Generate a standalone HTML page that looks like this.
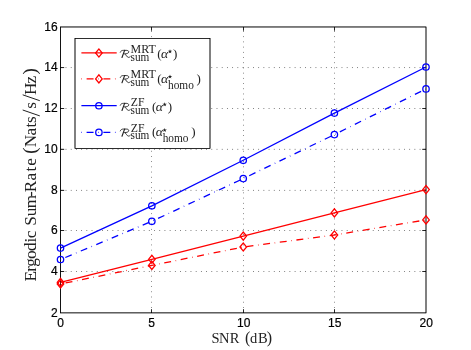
<!DOCTYPE html>
<html><head><meta charset="utf-8"><title>Ergodic Sum-Rate vs SNR</title>
<style>html,body{margin:0;padding:0;background:#fff}svg{display:block;will-change:transform;opacity:0.999}.t{font-family:"Liberation Sans",sans-serif;font-size:12px;fill:#000;stroke:#000;stroke-width:0.2px}.s{font-family:"Liberation Serif",serif;fill:#222}</style></head><body>
<svg width="471" height="350" viewBox="0 0 471 350">
<rect width="471" height="350" fill="#fff"/>
<g stroke="#000" stroke-width="0.579" stroke-dasharray="0.839 4.368" stroke-dashoffset="0.13" fill="none">
<line x1="151.50" y1="312.90" x2="151.50" y2="26.98" stroke-dasharray="0.778 4.428" stroke-dashoffset="0.1"/>
<line x1="243.50" y1="312.90" x2="243.50" y2="26.98" stroke-dasharray="0.778 4.428" stroke-dashoffset="0.1"/>
<line x1="334.50" y1="312.90" x2="334.50" y2="26.98" stroke-dasharray="0.778 4.428" stroke-dashoffset="0.1"/>
<line x1="60.50" y1="271.50" x2="426.00" y2="271.50"/>
<line x1="60.50" y1="230.50" x2="426.00" y2="230.50"/>
<line x1="60.50" y1="190.40" x2="426.00" y2="190.40"/>
<line x1="60.50" y1="149.35" x2="426.00" y2="149.35"/>
<line x1="60.50" y1="108.50" x2="426.00" y2="108.50"/>
<line x1="60.50" y1="67.55" x2="426.00" y2="67.55"/>
</g>
<rect x="60.50" y="26.98" width="365.50" height="285.92" fill="none" stroke="#000" stroke-width="0.579"/>
<g stroke="#000" stroke-width="0.62">
<line x1="151.50" y1="312.90" x2="151.50" y2="309.25"/>
<line x1="151.50" y1="26.98" x2="151.50" y2="30.63"/>
<line x1="243.50" y1="312.90" x2="243.50" y2="309.25"/>
<line x1="243.50" y1="26.98" x2="243.50" y2="30.63"/>
<line x1="334.50" y1="312.90" x2="334.50" y2="309.25"/>
<line x1="334.50" y1="26.98" x2="334.50" y2="30.63"/>
<line x1="60.50" y1="271.50" x2="64.15" y2="271.50"/>
<line x1="426.00" y1="271.50" x2="422.35" y2="271.50"/>
<line x1="60.50" y1="230.50" x2="64.15" y2="230.50"/>
<line x1="426.00" y1="230.50" x2="422.35" y2="230.50"/>
<line x1="60.50" y1="190.40" x2="64.15" y2="190.40"/>
<line x1="426.00" y1="190.40" x2="422.35" y2="190.40"/>
<line x1="60.50" y1="149.35" x2="64.15" y2="149.35"/>
<line x1="426.00" y1="149.35" x2="422.35" y2="149.35"/>
<line x1="60.50" y1="108.50" x2="64.15" y2="108.50"/>
<line x1="426.00" y1="108.50" x2="422.35" y2="108.50"/>
<line x1="60.50" y1="67.55" x2="64.15" y2="67.55"/>
<line x1="426.00" y1="67.55" x2="422.35" y2="67.55"/>
</g>
<rect x="60.50" y="26.98" width="365.50" height="285.92" fill="none" stroke="#000" stroke-width="0.579"/>
<g stroke="#000" stroke-width="0.62">
<line x1="151.50" y1="312.90" x2="151.50" y2="309.25"/>
<line x1="151.50" y1="26.98" x2="151.50" y2="30.63"/>
<line x1="243.50" y1="312.90" x2="243.50" y2="309.25"/>
<line x1="243.50" y1="26.98" x2="243.50" y2="30.63"/>
<line x1="334.50" y1="312.90" x2="334.50" y2="309.25"/>
<line x1="334.50" y1="26.98" x2="334.50" y2="30.63"/>
<line x1="60.50" y1="271.50" x2="64.15" y2="271.50"/>
<line x1="426.00" y1="271.50" x2="422.35" y2="271.50"/>
<line x1="60.50" y1="230.50" x2="64.15" y2="230.50"/>
<line x1="426.00" y1="230.50" x2="422.35" y2="230.50"/>
<line x1="60.50" y1="190.40" x2="64.15" y2="190.40"/>
<line x1="426.00" y1="190.40" x2="422.35" y2="190.40"/>
<line x1="60.50" y1="149.35" x2="64.15" y2="149.35"/>
<line x1="426.00" y1="149.35" x2="422.35" y2="149.35"/>
<line x1="60.50" y1="108.50" x2="64.15" y2="108.50"/>
<line x1="426.00" y1="108.50" x2="422.35" y2="108.50"/>
<line x1="60.50" y1="67.55" x2="64.15" y2="67.55"/>
<line x1="426.00" y1="67.55" x2="422.35" y2="67.55"/>
</g>
<line x1="60.5" y1="26.98" x2="60.5" y2="312.9" stroke="#000" stroke-width="0.579"/>
<text class="t" x="60.70" y="326.7" text-anchor="middle">0</text>
<text class="t" x="151.70" y="326.7" text-anchor="middle">5</text>
<text class="t" x="243.70" y="326.7" text-anchor="middle">10</text>
<text class="t" x="334.70" y="326.7" text-anchor="middle">15</text>
<text class="t" x="426.20" y="326.7" text-anchor="middle">20</text>
<text class="t" x="57.7" y="316.80" text-anchor="end">2</text>
<text class="t" x="57.7" y="275.40" text-anchor="end">4</text>
<text class="t" x="57.7" y="234.40" text-anchor="end">6</text>
<text class="t" x="57.7" y="194.30" text-anchor="end">8</text>
<text class="t" x="57.7" y="153.25" text-anchor="end">10</text>
<text class="t" x="57.7" y="112.40" text-anchor="end">12</text>
<text class="t" x="57.7" y="71.45" text-anchor="end">14</text>
<text class="t" x="57.7" y="30.88" text-anchor="end">16</text>
<polyline points="60.50,282.30 151.85,259.30 243.25,236.10 334.40,212.90 426.00,189.60" fill="none" stroke="#ff0000" stroke-width="1.280"/>
<path d="M57.20,282.30 L60.50,278.25 L63.80,282.30 L60.50,286.35 Z" fill="none" stroke="#ff0000" stroke-width="1.280"/>
<path d="M148.55,259.30 L151.85,255.25 L155.15,259.30 L151.85,263.35 Z" fill="none" stroke="#ff0000" stroke-width="1.280"/>
<path d="M239.95,236.10 L243.25,232.05 L246.55,236.10 L243.25,240.15 Z" fill="none" stroke="#ff0000" stroke-width="1.280"/>
<path d="M331.10,212.90 L334.40,208.85 L337.70,212.90 L334.40,216.95 Z" fill="none" stroke="#ff0000" stroke-width="1.280"/>
<path d="M422.70,189.60 L426.00,185.55 L429.30,189.60 L426.00,193.65 Z" fill="none" stroke="#ff0000" stroke-width="1.280"/>
<polyline points="60.50,284.00 151.85,265.40 243.25,247.00 334.40,235.00 426.00,219.90" fill="none" stroke="#ff0000" stroke-width="1.280" stroke-dasharray="0.579 4.628 6.942 4.628" stroke-dashoffset="0.0"/>
<path d="M57.20,284.00 L60.50,279.95 L63.80,284.00 L60.50,288.05 Z" fill="none" stroke="#ff0000" stroke-width="1.280"/>
<path d="M148.55,265.40 L151.85,261.35 L155.15,265.40 L151.85,269.45 Z" fill="none" stroke="#ff0000" stroke-width="1.280"/>
<path d="M239.95,247.00 L243.25,242.95 L246.55,247.00 L243.25,251.05 Z" fill="none" stroke="#ff0000" stroke-width="1.280"/>
<path d="M331.10,235.00 L334.40,230.95 L337.70,235.00 L334.40,239.05 Z" fill="none" stroke="#ff0000" stroke-width="1.280"/>
<path d="M422.70,219.90 L426.00,215.85 L429.30,219.90 L426.00,223.95 Z" fill="none" stroke="#ff0000" stroke-width="1.280"/>
<polyline points="60.50,248.10 151.85,205.80 243.25,160.30 334.40,113.10 426.00,67.00" fill="none" stroke="#0000ff" stroke-width="1.280"/>
<circle cx="60.50" cy="248.10" r="3.2" fill="none" stroke="#0000ff" stroke-width="1.280"/>
<circle cx="151.85" cy="205.80" r="3.2" fill="none" stroke="#0000ff" stroke-width="1.280"/>
<circle cx="243.25" cy="160.30" r="3.2" fill="none" stroke="#0000ff" stroke-width="1.280"/>
<circle cx="334.40" cy="113.10" r="3.2" fill="none" stroke="#0000ff" stroke-width="1.280"/>
<circle cx="426.00" cy="67.00" r="3.2" fill="none" stroke="#0000ff" stroke-width="1.280"/>
<polyline points="60.50,259.50 151.85,221.30 243.25,178.60 334.40,134.60 426.00,88.90" fill="none" stroke="#0000ff" stroke-width="1.280" stroke-dasharray="0.579 4.628 6.942 4.628" stroke-dashoffset="0.0"/>
<circle cx="60.50" cy="259.50" r="3.2" fill="none" stroke="#0000ff" stroke-width="1.280"/>
<circle cx="151.85" cy="221.30" r="3.2" fill="none" stroke="#0000ff" stroke-width="1.280"/>
<circle cx="243.25" cy="178.60" r="3.2" fill="none" stroke="#0000ff" stroke-width="1.280"/>
<circle cx="334.40" cy="134.60" r="3.2" fill="none" stroke="#0000ff" stroke-width="1.280"/>
<circle cx="426.00" cy="88.90" r="3.2" fill="none" stroke="#0000ff" stroke-width="1.280"/>
<rect x="75.0" y="38.55" width="135.00" height="109.85" fill="#fff" stroke="#000" stroke-width="0.579"/>
<rect x="75.0" y="38.55" width="135.00" height="109.85" fill="none" stroke="#000" stroke-width="0.579"/>
<line x1="81.4" y1="52.98" x2="116.7" y2="52.98" stroke="#ff0000" stroke-width="1.280"/>
<path d="M95.60,52.98 L98.90,48.93 L102.20,52.98 L98.90,57.03 Z" fill="none" stroke="#ff0000" stroke-width="1.280"/>
<line x1="81.4" y1="78.9" x2="116.4" y2="78.9" stroke="#ff0000" stroke-width="1.280" stroke-dasharray="0.579 4.628 6.942 4.628" stroke-dashoffset="0.0"/>
<path d="M95.60,78.90 L98.90,74.85 L102.20,78.90 L98.90,82.95 Z" fill="none" stroke="#ff0000" stroke-width="1.280"/>
<line x1="81.4" y1="105.72" x2="116.7" y2="105.72" stroke="#0000ff" stroke-width="1.280"/>
<circle cx="98.90" cy="105.72" r="3.2" fill="none" stroke="#0000ff" stroke-width="1.280"/>
<line x1="81.4" y1="132.4" x2="116.4" y2="132.4" stroke="#0000ff" stroke-width="1.280" stroke-dasharray="0.579 4.628 6.942 4.628" stroke-dashoffset="0.0"/>
<circle cx="98.90" cy="132.40" r="3.2" fill="none" stroke="#0000ff" stroke-width="1.280"/>
<g transform="translate(0.00,0.00)" fill="none" stroke="#222" stroke-linecap="round" stroke-linejoin="round"><path d="M120.3,52.2 C120.7,50.9 121.9,50.35 123.4,50.35 L126.2,50.35 C128,50.35 128.9,51.0 128.7,52.1 C128.5,53.3 126.9,53.9 124.8,53.9 M124.8,53.9 C126.0,54.3 126.9,57.3 128.4,57.4 C129.2,57.4 129.8,57.1 130.3,56.6" stroke-width="0.9"/><path d="M124.6,50.4 L122.0,57.5" stroke-width="1.15"/></g>
<text class="s" font-size="11.5" x="130.6" y="53.00" textLength="25.2" lengthAdjust="spacingAndGlyphs">MRT</text>
<text class="s" font-size="12" x="130.6" y="60.50" textLength="18.8" lengthAdjust="spacingAndGlyphs">sum</text>
<text class="s" font-size="13" x="157.30" y="57.70">(</text>
<text class="s" font-style="italic" font-size="12" x="161.10" y="57.5" textLength="7.2" lengthAdjust="spacingAndGlyphs">α</text>
<polygon points="170.00,49.20 170.54,50.76 172.19,50.79 170.87,51.78 171.35,53.36 170.00,52.42 168.65,53.36 169.13,51.78 167.81,50.79 169.46,50.76" fill="#222"/>
<text class="s" font-size="13" x="173.10" y="57.70">)</text>
<g transform="translate(0.00,25.20)" fill="none" stroke="#222" stroke-linecap="round" stroke-linejoin="round"><path d="M120.3,52.2 C120.7,50.9 121.9,50.35 123.4,50.35 L126.2,50.35 C128,50.35 128.9,51.0 128.7,52.1 C128.5,53.3 126.9,53.9 124.8,53.9 M124.8,53.9 C126.0,54.3 126.9,57.3 128.4,57.4 C129.2,57.4 129.8,57.1 130.3,56.6" stroke-width="0.9"/><path d="M124.6,50.4 L122.0,57.5" stroke-width="1.15"/></g>
<text class="s" font-size="11.5" x="130.6" y="78.20" textLength="25.2" lengthAdjust="spacingAndGlyphs">MRT</text>
<text class="s" font-size="12" x="130.6" y="85.70" textLength="18.8" lengthAdjust="spacingAndGlyphs">sum</text>
<text class="s" font-size="13" x="157.30" y="82.90">(</text>
<text class="s" font-style="italic" font-size="12" x="161.10" y="82.7" textLength="7.2" lengthAdjust="spacingAndGlyphs">α</text>
<polygon points="170.00,74.40 170.54,75.96 172.19,75.99 170.87,76.98 171.35,78.56 170.00,77.62 168.65,78.56 169.13,76.98 167.81,75.99 169.46,75.96" fill="#222"/>
<text class="s" font-size="11.5" x="168.00" y="88.60" textLength="25.8" lengthAdjust="spacingAndGlyphs">homo</text>
<text class="s" font-size="13" x="196.50" y="82.90">)</text>
<g transform="translate(0.00,53.00)" fill="none" stroke="#222" stroke-linecap="round" stroke-linejoin="round"><path d="M120.3,52.2 C120.7,50.9 121.9,50.35 123.4,50.35 L126.2,50.35 C128,50.35 128.9,51.0 128.7,52.1 C128.5,53.3 126.9,53.9 124.8,53.9 M124.8,53.9 C126.0,54.3 126.9,57.3 128.4,57.4 C129.2,57.4 129.8,57.1 130.3,56.6" stroke-width="0.9"/><path d="M124.6,50.4 L122.0,57.5" stroke-width="1.15"/></g>
<text class="s" font-size="11.5" x="130.8" y="106.30" textLength="13.7" lengthAdjust="spacingAndGlyphs">ZF</text>
<text class="s" font-size="12" x="130.6" y="113.50" textLength="18.8" lengthAdjust="spacingAndGlyphs">sum</text>
<text class="s" font-size="13" x="151.95" y="110.70">(</text>
<text class="s" font-style="italic" font-size="12" x="155.75" y="110.5" textLength="7.2" lengthAdjust="spacingAndGlyphs">α</text>
<polygon points="164.65,102.20 165.19,103.76 166.84,103.79 165.52,104.78 166.00,106.36 164.65,105.42 163.30,106.36 163.78,104.78 162.46,103.79 164.11,103.76" fill="#222"/>
<text class="s" font-size="13" x="167.75" y="110.70">)</text>
<g transform="translate(0.00,78.70)" fill="none" stroke="#222" stroke-linecap="round" stroke-linejoin="round"><path d="M120.3,52.2 C120.7,50.9 121.9,50.35 123.4,50.35 L126.2,50.35 C128,50.35 128.9,51.0 128.7,52.1 C128.5,53.3 126.9,53.9 124.8,53.9 M124.8,53.9 C126.0,54.3 126.9,57.3 128.4,57.4 C129.2,57.4 129.8,57.1 130.3,56.6" stroke-width="0.9"/><path d="M124.6,50.4 L122.0,57.5" stroke-width="1.15"/></g>
<text class="s" font-size="11.5" x="130.8" y="132.00" textLength="13.7" lengthAdjust="spacingAndGlyphs">ZF</text>
<text class="s" font-size="12" x="130.6" y="139.20" textLength="18.8" lengthAdjust="spacingAndGlyphs">sum</text>
<text class="s" font-size="13" x="151.95" y="136.40">(</text>
<text class="s" font-style="italic" font-size="12" x="155.75" y="136.2" textLength="7.2" lengthAdjust="spacingAndGlyphs">α</text>
<polygon points="164.65,127.90 165.19,129.46 166.84,129.49 165.52,130.48 166.00,132.06 164.65,131.12 163.30,132.06 163.78,130.48 162.46,129.49 164.11,129.46" fill="#222"/>
<text class="s" font-size="11.5" x="162.65" y="142.10" textLength="25.8" lengthAdjust="spacingAndGlyphs">homo</text>
<text class="s" font-size="13" x="191.15" y="136.40">)</text>
<g><text class="s" font-size="14.5" x="211.43 219.12 229.67 250.10 258.01" y="342.5">SNRdB</text><text class="s" font-size="16.0" x="244.94" y="342.90">(</text><text class="s" font-size="16.0" x="266.83" y="342.90">)</text></g>
<g transform="translate(35.5,280.8) rotate(-90)"><text class="s" font-size="17.2" x="-0.72 9.09 13.99 21.90 29.84 38.39 42.62 55.13 64.68 72.46 83.93 88.48 100.35 109.23 115.15 133.49 145.20 153.38 157.81 171.96 185.89 197.24" y="0">ErgodicSum-RateNatssHz</text><text class="s" font-size="18.8" x="127.11" y="0.30">(</text><line x1="164.90" y1="4.30" x2="170.80" y2="-12.80" stroke="#222" stroke-width="1"/><line x1="180.10" y1="4.30" x2="186.00" y2="-12.80" stroke="#222" stroke-width="1"/><text class="s" font-size="18.8" x="206.28" y="0.30">)</text></g>
</svg></body></html>
